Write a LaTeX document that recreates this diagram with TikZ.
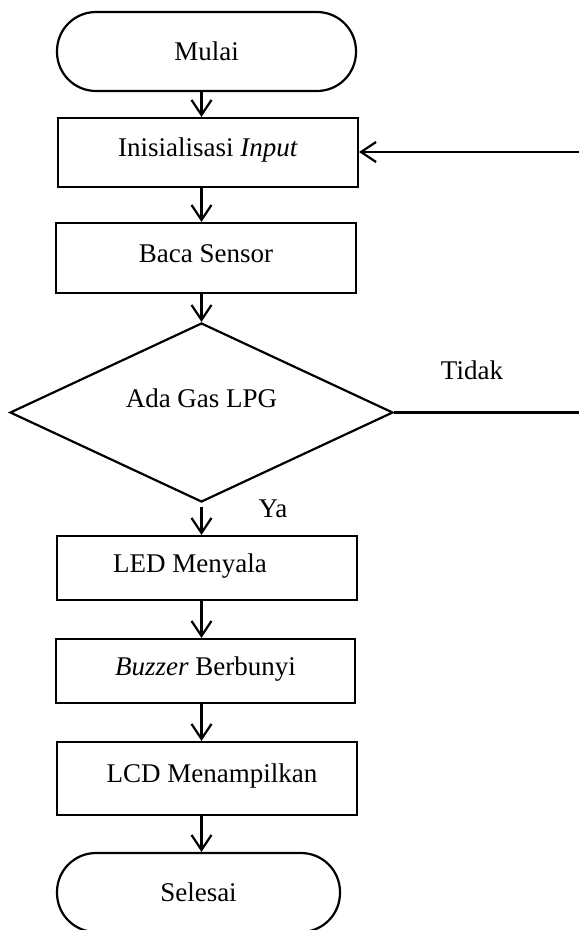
\documentclass[tikz,border=0pt]{standalone}
\usepackage{fontspec}
\setmainfont{Liberation Serif}
\usetikzlibrary{shapes.geometric, arrows.meta}

\tikzset{
	proses/.style={rectangle, draw=black, line width=2.2pt, fill=white, minimum width=300pt, inner sep=0pt, text height=18pt, text depth=10pt},
	terminal/.style={rectangle, rounded corners=39pt, draw=black, line width=2.2pt, fill=white, minimum height=79pt, inner sep=0pt},
	keputusan/.style={diamond, aspect=2.14, draw=black, line width=2.2pt, fill=white, minimum width=383pt, minimum height=179pt, inner sep=0pt, text height=18pt, text depth=29pt},
	panah/.style={line width=2.2pt, -{Straight Barb[length=15pt, width=20pt]}}
}

\begin{document}
\begin{tikzpicture}[x=1pt, y=-1pt, font=\fontsize{27}{32}\selectfont]
		\useasboundingbox (0, 0) rectangle (579, 930);
		\def\xr{579}
		\node[terminal, minimum width=299pt] (mulai) at (206.5, 51.5) {Mulai};
		\node[proses, minimum height=69pt] (init) at (208, 152.5) {Inisialisasi \textit{Input}};
		\node[proses, minimum height=70pt] (baca) at (206, 258) {Baca Sensor};
		\node[keputusan] (gas) at (201.5, 412.5) {Ada Gas LPG};
		\node[proses, minimum height=64pt] (led) at (207, 568) {\hspace*{-34pt}LED Menyala};
		\node[proses, minimum width=299pt, minimum height=64pt] (buzzer) at (205.5, 671) {\textit{Buzzer} Berbunyi};
		\node[proses, minimum height=73pt] (lcd) at (207, 778.5) {\hspace*{10pt}LCD Menampilkan};
		\node[terminal, minimum width=283pt] (selesai) at (198.5, 892.5) {Selesai};
		\node[anchor=base] (tidak) at (472, 379) {Tidak};
		\node[anchor=base] (ya) at (273, 517) {Ya};
		\coordinate (kanan1) at (\xr, 152);
		\coordinate (kanan2) at (\xr, 412.5);
		\draw[panah] (mulai.south -| gas.north) -- (init.north -| gas.north);
		\draw[panah] (init.south -| gas.north) -- (baca.north -| gas.north);
		\draw[panah] (baca.south -| gas.north) -- (gas.north);
		\draw[panah] ([yshift=-4pt]gas.south) -- (led.north -| gas.south);
		\draw[panah] (led.south -| gas.north) -- (buzzer.north -| gas.north);
		\draw[panah] (buzzer.south -| gas.north) -- (lcd.north -| gas.north);
		\draw[panah] (lcd.south -| gas.north) -- (selesai.north -| gas.north);
		\draw[line width=2.2pt] (gas.east) -- (kanan2);
		\draw[panah] (kanan1) -- (kanan1 -| init.east);
	\end{tikzpicture}
\end{document}
